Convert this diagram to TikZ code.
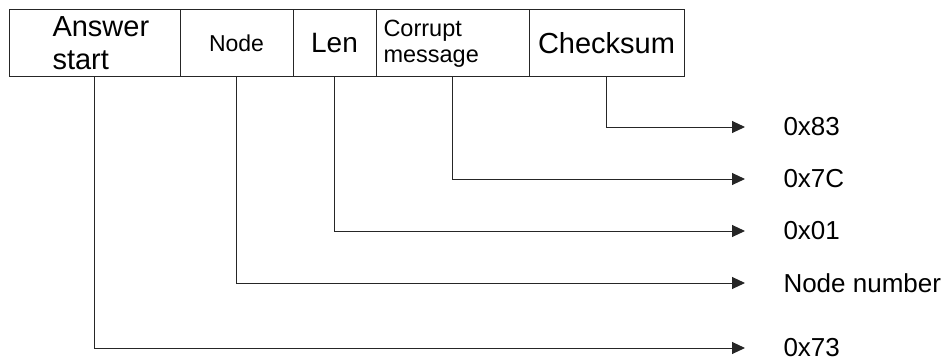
\documentclass[tikz,border=0pt]{standalone}
\usepackage{fontspec}
\setmainfont{Liberation Sans}
\usetikzlibrary{arrows.meta}
\begin{document}
\begin{tikzpicture}[
    x=1pt, y=-1pt,
    field/.style={draw, minimum height=66.5pt, inner sep=0pt, outer sep=0pt},
    value/.style={anchor=west, inner sep=0pt, font=\fontsize{26}{30}\selectfont},
    >={Triangle[length=13pt,width=12pt]}, line width=1pt, draw=black!85
  ]
  \useasboundingbox (0,0) rectangle (946,362);
  \node[field, minimum width=170.5pt] (answer) at (94.75,43) {};
  \node[field, minimum width=113pt, font=\fontsize{23}{26}\selectfont] (node) at (236.5,43) {Node};
  \node[field, minimum width=83pt, font=\fontsize{28}{32}\selectfont] (len) at (334.5,43) {Len};
  \node[field, minimum width=153pt] (corrupt) at (452.5,43) {};
  \node[field, minimum width=155pt, font=\fontsize{29}{33}\selectfont] (checksum) at (606.5,43) {Checksum};
  \node[anchor=west, align=left, inner sep=0pt, font=\fontsize{29}{33}\selectfont] (answertext) at (52,43) {Answer\\start};
  \node[anchor=west, align=left, inner sep=0pt, font=\fontsize{23.5}{26}\selectfont] (corrupttext) at (383,44) {Corrupt\\message};
  \node[value] (v83) at (783,127) {0x83};
  \node[value] (v7c) at (783,179) {0x7C};
  \node[value] (v01) at (783,231) {0x01};
  \node[value] (vnode) at (783,283) {Node number};
  \node[value] (v73) at (783,348) {0x73};
  \draw[->, shorten >=38pt] (checksum.south) |- (v83.west);
  \draw[->, shorten >=38pt] (corrupt.south) |- (v7c.west);
  \draw[->, shorten >=38pt] (len.south) |- (v01.west);
  \draw[->, shorten >=38pt] (node.south) |- (vnode.west);
  \draw[->, shorten >=38pt] (answer.south) |- (v73.west);
\end{tikzpicture}
\end{document}
